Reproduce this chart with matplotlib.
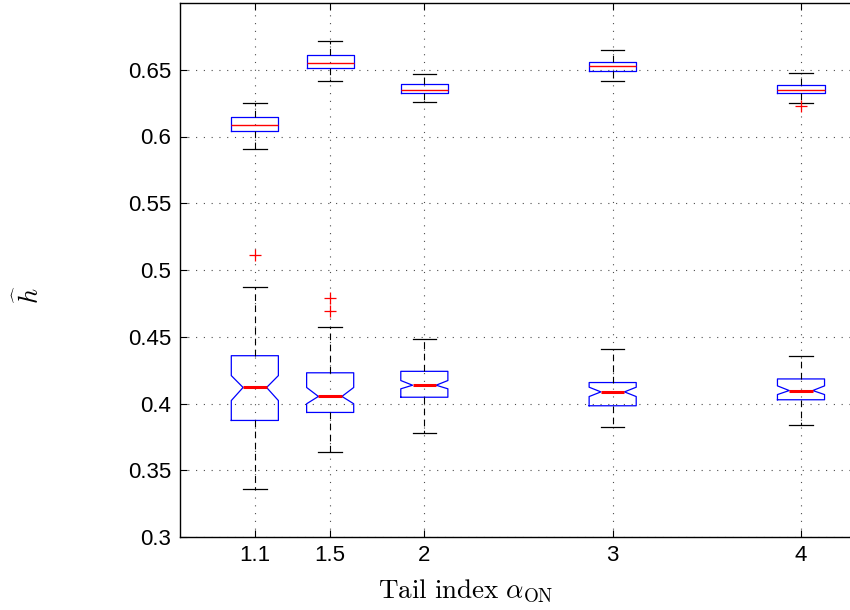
import matplotlib
matplotlib.use("Agg")
import matplotlib.pyplot as plt

plt.rcParams["mathtext.fontset"] = "cm"
plt.rcParams["font.family"] = ["Liberation Sans", "DejaVu Sans"]

# tail index values (x positions)
alpha_on = [1.1, 1.5, 2, 3, 4]
tick_labels = ["1.1", "1.5", "2", "3", "4"]

# upper set of boxes (estimator 1)
up_whislo = [0.591, 0.6412, 0.6255, 0.6412, 0.625]
up_q1 = [0.604, 0.6515, 0.6325, 0.6493, 0.6325]
up_med = [0.6088, 0.655, 0.635, 0.6528, 0.6345]
up_q3 = [0.6145, 0.661, 0.6395, 0.6558, 0.6385]
up_whishi = [0.6253, 0.6712, 0.6468, 0.665, 0.6475]
up_fliers = [[], [], [], [], [0.6228]]

# lower set of boxes (estimator 2), notched
lo_whislo = [0.3358, 0.3634, 0.378, 0.3826, 0.3838]
lo_q1 = [0.3873, 0.3933, 0.4047, 0.3983, 0.4028]
lo_med = [0.412, 0.4053, 0.4137, 0.4087, 0.4097]
lo_q3 = [0.4358, 0.423, 0.4241, 0.4157, 0.4184]
lo_whishi = [0.4873, 0.4575, 0.448, 0.4408, 0.4353]
lo_cilo = [0.4022, 0.3998, 0.411, 0.4052, 0.4067]
lo_cihi = [0.4209, 0.412, 0.4172, 0.4122, 0.4132]
lo_fliers = [[0.511], [0.479, 0.4694], [], [], []]

yticks = [0.3, 0.35, 0.4, 0.45, 0.5, 0.55, 0.6, 0.65]
ytick_labels = ["0.3", "0.35", "0.4", "0.45", "0.5", "0.55", "0.6", "0.65"]

up_stats = []
for i in range(len(alpha_on)):
    up_stats.append(dict(whislo=up_whislo[i], q1=up_q1[i], med=up_med[i],
                         q3=up_q3[i], whishi=up_whishi[i], fliers=up_fliers[i]))

lo_stats = []
for i in range(len(alpha_on)):
    lo_stats.append(dict(whislo=lo_whislo[i], q1=lo_q1[i], med=lo_med[i],
                         q3=lo_q3[i], whishi=lo_whishi[i], fliers=lo_fliers[i],
                         cilo=lo_cilo[i], cihi=lo_cihi[i]))

fig = plt.figure(figsize=(8.5, 6.1), dpi=100)
ax = fig.add_axes([179.5 / 850, 73 / 610, 678 / 850, 534 / 610])

whisker_style = dict(color="black", linewidth=0.8, linestyle=(0, (6, 4)))
cap_style = dict(color="black", linewidth=0.9)
box_style = dict(color="blue", linewidth=0.9)
flier_style = dict(marker="+", markeredgecolor="red", markersize=8, markeredgewidth=0.9)

ax.bxp(up_stats, positions=alpha_on, widths=0.25, showfliers=True,
       boxprops=box_style, whiskerprops=whisker_style, capprops=cap_style,
       medianprops=dict(color="red", linewidth=1.0), flierprops=flier_style,
       manage_ticks=False)
ax.bxp(lo_stats, positions=alpha_on, widths=0.25, shownotches=True, showfliers=True,
       boxprops=box_style, whiskerprops=whisker_style, capprops=cap_style,
       medianprops=dict(color="red", linewidth=2.2), flierprops=flier_style,
       manage_ticks=False)

ax.set_xlim(0.7, 4.3)
ax.set_ylim(0.3, 0.7)
ax.set_xticks(alpha_on)
ax.set_xticklabels(tick_labels)
ax.set_yticks(yticks)
ax.set_yticklabels(ytick_labels)
ax.tick_params(direction="in", top=True, right=True, length=5, labelsize=16, pad=6)
ax.grid(True, color="0.3", linestyle=(0, (1, 6)), linewidth=0.8)
for s in ax.spines.values():
    s.set_linewidth(1.0)

fig.text(466 / 850, 1 - 591 / 610, r"$\mathrm{Tail\ index}\ \alpha_{\mathrm{ON}}$",
         ha="center", va="center", fontsize=19.5)
fig.text(29 / 850, 1 - 295 / 610, r"$\widehat{h}$", rotation=90,
         ha="center", va="center", fontsize=19)

fig.savefig("out.png", dpi=100)
